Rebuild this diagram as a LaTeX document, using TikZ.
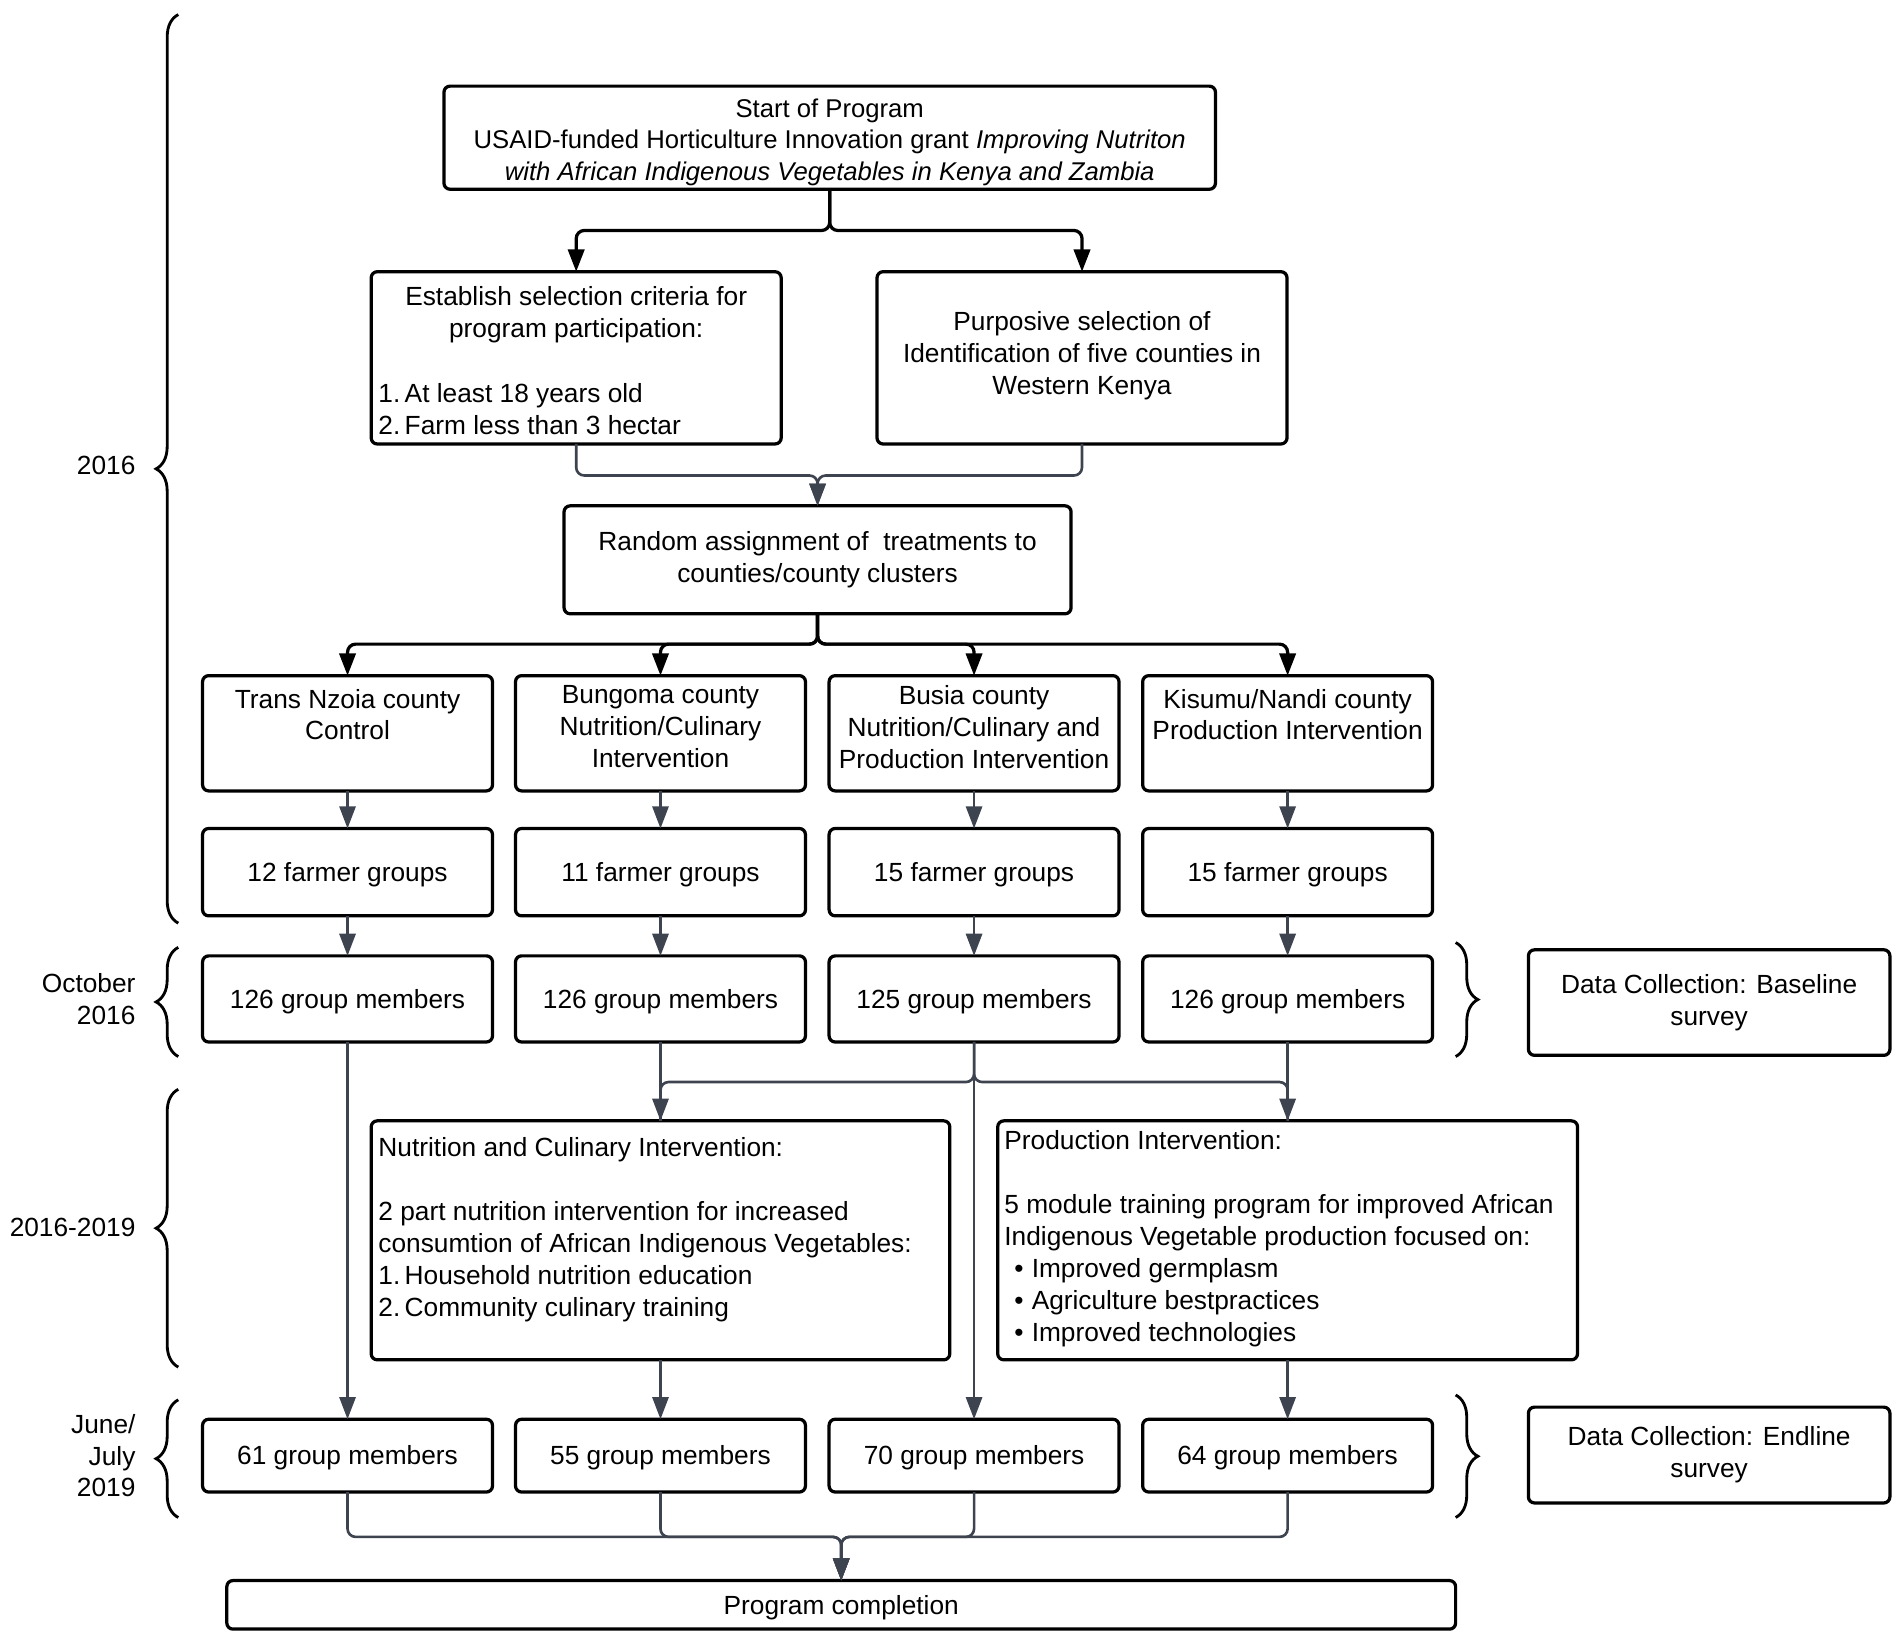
\documentclass[tikz,border=0pt]{standalone}
\usepackage{fontspec}
\setmainfont{Liberation Sans}
\usetikzlibrary{arrows.meta,decorations.pathreplacing}
\definecolor{conn}{HTML}{3D4450}
\begin{document}
\begin{tikzpicture}[x=0.6pt,y=-0.6pt,
  font=\fontsize{13}{15.8}\selectfont,
  box/.style={draw=black,line width=1.6pt,rounded corners=3pt,inner sep=0pt,outer sep=0pt,align=center},
  one/.style={text height=11.8pt,text depth=2.7pt},
  txt/.style={inner sep=0pt,outer sep=0pt},
  arr/.style={draw=conn,line width=1.3pt,rounded corners=4pt,-{Triangle[width=8pt,length=11pt]}},
  arrb/.style={arr,draw=black,line width=1.6pt,-{Triangle[width=8pt,length=11pt]}},
  ln/.style={draw=conn,line width=1.3pt,rounded corners=4pt},
  lbrace/.style={draw=black,line width=1.4pt,decorate,decoration={brace,amplitude=11pt}},
  lab/.style={inner sep=0pt,align=right,anchor=east}]
\useasboundingbox (0,0) rectangle (1568,1352);

% top
\node[box,minimum width=381.6pt,minimum height=51pt] (top) at (684,113.5) {};
\node[txt,align=center,font=\fontsize{12.7}{15.6}\selectfont] (topt) at (684,117)
  {Start of Program\\USAID-funded Horticulture Innovation grant \textit{Improving Nutriton}\\\textit{with African Indigenous Vegetables in Kenya and Zambia}};

\node[box,minimum width=202.8pt,minimum height=85.2pt] (est) at (475,295) {};
\node[txt,align=center,anchor=north] (estt) at (475,236) {Establish selection criteria for\\program participation:};
\node[txt,align=left,anchor=north west] (estl) at (312,316) {1.\,At least 18 years old\\2.\,Farm less than 3 hectar};

\node[box,minimum width=202.8pt,minimum height=85.2pt] (pur) at (892,295) {};
\node[txt,align=center] (purt) at (892,293) {Purposive selection of\\Identification of five counties in\\Western Kenya};

\node[box,minimum width=250.8pt,minimum height=53.4pt] (rnd) at (674,461.5)
  {Random assignment of \ treatments to\\counties/county clusters};

% counties
\foreach \n/\x in {c1/286.5,c2/544.5,c3/803,c4/1061.5}{
  \node[box,minimum width=143.4pt,minimum height=57pt] (\n) at (\x,604.5) {};
}
\node[txt,align=center,anchor=north] (c1t) at (286.5,568) {Trans Nzoia county\\Control};
\node[txt,align=center,anchor=north] (c2t) at (544.5,565) {Bungoma county\\Nutrition/Culinary\\Intervention};
\node[txt,align=center,anchor=north] (c3t) at (803,565) {Busia county\\Nutrition/Culinary and\\Production Intervention};
\node[txt,align=center,anchor=north] (c4t) at (1061.5,568) {Kisumu/Nandi county\\Production Intervention};

% farmer groups
\node[box,one,minimum width=143.4pt,minimum height=43.2pt] (f1) at (286.5,719) {12 farmer groups};
\node[box,one,minimum width=143.4pt,minimum height=43.2pt] (f2) at (544.5,719) {11 farmer groups};
\node[box,one,minimum width=143.4pt,minimum height=43.2pt] (f3) at (803,719) {15 farmer groups};
\node[box,one,minimum width=143.4pt,minimum height=43.2pt] (f4) at (1061.5,719) {15 farmer groups};

% members baseline
\node[box,one,minimum width=143.4pt,minimum height=42.6pt] (m1) at (286.5,823.5) {126 group members};
\node[box,one,minimum width=143.4pt,minimum height=42.6pt] (m2) at (544.5,823.5) {126 group members};
\node[box,one,minimum width=143.4pt,minimum height=42.6pt] (m3) at (803,823.5) {125 group members};
\node[box,one,minimum width=143.4pt,minimum height=42.6pt] (m4) at (1061.5,823.5) {126 group members};

\node[box,minimum width=178.8pt,minimum height=52.2pt] (base) at (1409,826.5) {Data Collection: Baseline\\survey};

% interventions
\node[box,minimum width=286.2pt,minimum height=118.2pt] (nut) at (544.5,1022.5) {};
\node[txt,align=left,anchor=north west] (nutt) at (312,938)
  {Nutrition and Culinary Intervention:\\[15.8pt]2 part nutrition intervention for increased\\consumtion of African Indigenous Vegetables:\\1.\,Household nutrition education\\2.\,Community culinary training};
\node[box,minimum width=286.8pt,minimum height=118.2pt] (prod) at (1061.5,1022.5) {};
\node[txt,align=left,anchor=north west] (prodt) at (828,932)
  {Production Intervention:\\[15.8pt]5 module training program for improved African\\Indigenous Vegetable production focused on:\\\hspace*{5pt}\textbullet\hspace{4pt}Improved germplasm\\\hspace*{5pt}\textbullet\hspace{4pt}Agriculture bestpractices\\\hspace*{5pt}\textbullet\hspace{4pt}Improved technologies};

% endline members
\node[box,one,minimum width=143.4pt,minimum height=36pt] (e1) at (286.5,1200) {61 group members};
\node[box,one,minimum width=143.4pt,minimum height=36pt] (e2) at (544.5,1200) {55 group members};
\node[box,one,minimum width=143.4pt,minimum height=36pt] (e3) at (803,1200) {70 group members};
\node[box,one,minimum width=143.4pt,minimum height=36pt] (e4) at (1061.5,1200) {64 group members};

\node[box,minimum width=178.8pt,minimum height=47.4pt] (endb) at (1409,1199.5) {Data Collection: Endline\\survey};

\node[box,one,minimum width=607.8pt,minimum height=24pt] (comp) at (693.5,1323) {Program completion};

% connectors
\coordinate (j1) at (684,190);
\draw[arrb] (top.south) -- (j1) -| (est.north);
\draw[arrb] (top.south) -- (j1) -| (pur.north);
\coordinate (j2) at (674,392);
\draw[arr] (est.south) |- (j2) -- (rnd.north);
\draw[arr] (pur.south) |- (j2) -- (rnd.north);
\coordinate (j3) at (674,531);
\foreach \n in {c1,c2,c3,c4}{
  \draw[arrb] (rnd.south) -- (j3) -| (\n.north);
}
\foreach \i in {1,2,3,4}{
  \draw[arr] (c\i.south) -- (f\i.north);
  \draw[arr] (f\i.south) -- (m\i.north);
}
\draw[arr] (m1.south) -- (e1.north);
\draw[arr] (m2.south) -- (nut.north);
\draw[arr] (m4.south) -- (prod.north);
\draw[arr] (m3.south) -- (e3.north);
\coordinate (j4) at (803,892);
\draw[ln] (m3.south) -- (j4) -| (nut.north);
\draw[ln] (m3.south) -- (j4) -| (prod.north);
\draw[arr] (nut.south) -- (e2.north);
\draw[arr] (prod.south) -- (e4.north);
\coordinate (j5) at (693.5,1267);
\foreach \n in {e1,e2,e3,e4}{
  \draw[arr] (\n.south) |- (j5) -- (comp.north);
}

% braces
\draw[lbrace] (147,761) -- (147,12);
\draw[lbrace] (147,871) -- (147,781);
\draw[lbrace] (147,1127) -- (147,898);
\draw[lbrace] (147,1251) -- (147,1154);
\draw[lbrace] (1200,777) -- (1200,871);
\draw[lbrace] (1200,1150) -- (1200,1251);

\node[lab] (l1) at (112,384) {2016};
\node[lab] (l2) at (112,824) {October\\2016};
\node[lab] (l3) at (112,1012) {2016-2019};
\node[lab] (l4) at (112,1200) {June/\\July\\2019};
\end{tikzpicture}
\end{document}
